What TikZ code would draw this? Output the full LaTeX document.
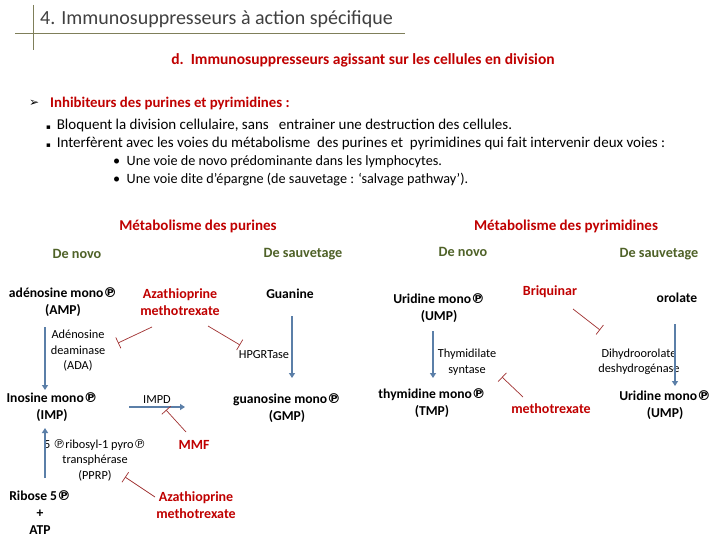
\documentclass[tikz,border=0pt]{standalone}
\usepackage{fontspec}
\setmainfont{Carlito}
\newfontfamily\dvfont{DejaVu Sans}
\usetikzlibrary{arrows.meta}
\definecolor{myred}{HTML}{C00000}
\definecolor{olivegr}{HTML}{4F6228}
\definecolor{arrblue}{HTML}{5B7FA8}
\definecolor{inhred}{HTML}{A03030}
\definecolor{titlegray}{HTML}{404040}
\definecolor{rulecol}{HTML}{7F7F5A}
\newcommand\phos{{\dvfont\char"2117}}
\tikzset{
  bold13/.style={font=\fontsize{13.6}{17}\selectfont\bfseries, align=center, inner sep=1pt},
  redlab/.style={bold13, font=\fontsize{14}{17}\selectfont\bfseries, text=myred},
  small/.style={font=\fontsize{12.3}{15.5}\selectfont, align=center, inner sep=1pt},
  way/.style={font=\fontsize{14.2}{16}\selectfont\bfseries, text=olivegr, inner sep=1pt},
  meta/.style={font=\fontsize{15}{16}\selectfont\bfseries, text=myred, inner sep=1pt},
  body/.style={font=\fontsize{14.2}{15}\selectfont, anchor=west, inner sep=0pt},
  bodywide/.style={body, font=\fontsize{15}{16}\selectfont},
  flow/.style={draw=arrblue, line width=2pt, -{Triangle[length=5pt,width=6pt]}},
  inhib/.style={draw=inhred, line width=0.7pt, -{Bar[width=12pt]}},
}
\begin{document}
\begin{tikzpicture}[x=1pt,y=-1pt]
\useasboundingbox[fill=white] (0,0) rectangle (720,540);
% header
\draw[rulecol, line width=0.8pt] (15,33) -- (405,33);
\draw[rulecol, line width=0.8pt] (33,5) -- (33,50);
\node[anchor=west, inner sep=0pt, text=titlegray, font=\fontsize{20}{22}\selectfont] (title) at (40,19) {4. Immunosuppresseurs à action spécifique};
\node[inner sep=0pt, text=myred, font=\fontsize{15.5}{17}\selectfont\bfseries] (sub) at (363,60) {d.\ \ Immunosuppresseurs agissant sur les cellules en division};
\node[anchor=west, inner sep=0pt] (arrow) at (29,103) {{\dvfont\fontsize{12}{14}\selectfont ➢}};
\node[body, text=myred, font=\fontsize{14.8}{16}\selectfont\bfseries] (inh) at (50,103) {Inhibiteurs des purines et pyrimidines :};
\node[bodywide] (b1) at (46,126) {{\dvfont\fontsize{7}{9}\selectfont ▪}\, Bloquent la division cellulaire, sans\ \ \ entrainer une destruction des cellules.};
\node[bodywide] (b2) at (46,144) {{\dvfont\fontsize{7}{9}\selectfont ▪}\, Interfèrent avec les voies du métabolisme\ \ des purines et\ \ pyrimidines qui fait intervenir deux voies :};
\node[body] (b3) at (113,162) {•\ \ Une voie de novo prédominante dans les lymphocytes.};
\node[body] (b4) at (113,180) {•\ \ Une voie dite d’épargne (de sauvetage : ‘salvage pathway’).};
% section titles
\node[meta] (mpur) at (198,226) {Métabolisme des purines};
\node[meta] (mpyr) at (566,226) {Métabolisme des pyrimidines};
\node[way] (dn1) at (77,254) {De novo};
\node[way] (ds1) at (303,254) {De sauvetage};
\node[way] (dn2) at (463,252) {De novo};
\node[way] (ds2) at (659,254) {De sauvetage};
% purines
\node[bold13] (amp) at (63,302) {adénosine mono\phos\\(AMP)};
\node[redlab] (aza1) at (180,302) {Azathioprine\\methotrexate};
\node[bold13] (gua) at (290,294) {Guanine};
\node[small] (ada) at (78,351) {Adénosine\\deaminase\\(ADA)};
\node[small] (hpg) at (264,355) {HPGRTase};
\node[bold13] (imp) at (52,407) {Inosine mono\phos\\(IMP)};
\node[small] (impd) at (157,400) {IMPD};
\node[bold13] (gmp) at (287,408) {guanosine mono\phos\\(GMP)};
\node[redlab] (mmf) at (194,445) {MMF};
\node[small] (pprp) at (95,460) {5 \phos ribosyl-1 pyro\phos\\transphérase\\(PPRP)};
\node[bold13] (rib) at (40,513) {Ribose 5\phos\\+\\ATP};
\node[redlab] (aza2) at (196,505) {Azathioprine\\methotrexate};
\coordinate (a1) at (45,327); \coordinate (a2) at (45,390);
\coordinate (g1) at (292,316); \coordinate (g2) at (292,378);
\coordinate (i1) at (129,407); \coordinate (i2) at (185,407);
\coordinate (r1) at (45,478); \coordinate (r2) at (45,428);
\draw[flow] (a1) -- (a2);
\draw[flow] (g1) -- (g2);
\draw[flow] (i1) -- (i2);
\draw[flow] (r1) -- (r2);
\coordinate (t1) at (118,343);
\coordinate (t2) at (240,345);
\coordinate (t3) at (166,410);
\coordinate (t4) at (125,477);
\draw[inhib] (152,327) -- (t1);
\draw[inhib] (208,326) -- (t2);
\draw[inhib] (186,432) -- (t3);
\draw[inhib] (155,497) -- (t4);
% pyrimidines
\node[bold13] (ump) at (439,308) {Uridine mono\phos\\(UMP)};
\node[redlab] (briq) at (550,292) {Briquinar};
\node[bold13] (oro) at (677,298) {orolate};
\node[small] (thy) at (467,362) {Thymidilate\\syntase};
\node[small] (dhd) at (639,362) {Dihydroorolate\\deshydrogénase};
\node[bold13] (tmp) at (432,403) {thymidine mono\phos\\(TMP)};
\node[redlab] (mtx) at (551,409) {methotrexate};
\node[bold13] (ump2) at (665,405) {Uridine mono\phos\\(UMP)};
\coordinate (u1) at (433,331); \coordinate (u2) at (433,378);
\coordinate (o1) at (675,324); \coordinate (o2) at (675,386);
\draw[flow] (u1) -- (u2);
\draw[flow] (o1) -- (o2);
\coordinate (t5) at (600,330);
\coordinate (t6) at (502,377);
\draw[inhib] (573,309) -- (t5);
\draw[inhib] (523,397) -- (t6);
\end{tikzpicture}
\end{document}
